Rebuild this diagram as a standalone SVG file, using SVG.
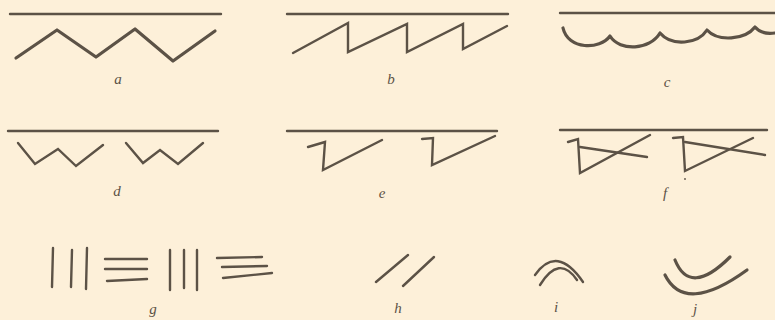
<svg xmlns="http://www.w3.org/2000/svg" width="775" height="320" viewBox="0 0 775 320">
<style>
.ln{fill:none;stroke:#5c5246;stroke-width:2.4;stroke-linecap:round;stroke-linejoin:miter}
.th{fill:none;stroke:#5c5246;stroke-width:3.2;stroke-linecap:round;stroke-linejoin:round}
.lb{font-family:"Liberation Serif",serif;font-style:italic;font-size:15px;fill:#5c5246;text-anchor:middle}
</style>
<rect width="775" height="320" fill="#fdf0d9"/>
<g id="a">
<line class="ln" x1="10" y1="14" x2="221" y2="14"/>
<polyline class="th" points="16,58 57,30 96,57 135,29 173,61 215,31" stroke-linejoin="miter"/>
<text class="lb" x="118" y="84">a</text>
</g>
<g id="b">
<line class="ln" x1="287" y1="14" x2="508" y2="14"/>
<polyline class="ln" points="293,53 348,23 348,52 407,24 407,52 463,24 463,49 507,26"/>
<text class="lb" x="391" y="84">b</text>
</g>
<g id="c">
<line class="ln" x1="560" y1="13" x2="775" y2="13"/>
<path class="th" stroke-width="3.6" d="M563,28 C568,50 600,50 610,36 C620,52 650,50 660,33 C672,47 698,44 707,30 C718,42 745,40 755,27 C760,33 768,34 775,33"/>
<text class="lb" x="667" y="87" font-style="normal">c</text>
</g>
<g id="d">
<line class="ln" x1="8" y1="131" x2="218" y2="131"/>
<polyline class="ln" points="18,143 35,164 58,149 76,166 103,145"/>
<polyline class="ln" points="126,143 143,163 160,150 178,164 203,143"/>
<text class="lb" x="117" y="196">d</text>
</g>
<g id="e">
<line class="ln" x1="287" y1="131" x2="497" y2="131"/>
<polyline class="ln" points="308,147 325,142 323,170 382,140"/>
<polyline class="ln" points="422,139 433,138 432,165 495,136"/>
<text class="lb" x="382" y="198">e</text>
</g>
<g id="f">
<line class="ln" x1="560" y1="130" x2="767" y2="130"/>
<polyline class="ln" points="568,142 578,139 580,173 650,135"/>
<line class="ln" x1="580" y1="147" x2="647" y2="157"/>
<polyline class="ln" points="673,138 683,137 685,171 753,138"/>
<line class="ln" x1="685" y1="142" x2="765" y2="155"/>
<circle cx="685" cy="179" r="0.9" fill="#5c5246"/>
<text class="lb" x="665" y="198">f</text>
</g>
<g id="g">
<line class="ln" x1="53" y1="248" x2="52" y2="287"/>
<line class="ln" x1="72" y1="250" x2="71" y2="287"/>
<line class="ln" x1="87" y1="248" x2="86" y2="289"/>
<line class="ln" x1="105" y1="259" x2="147" y2="259"/>
<line class="ln" x1="105" y1="269" x2="147" y2="269"/>
<line class="ln" x1="107" y1="281" x2="147" y2="279"/>
<line class="ln" x1="170" y1="250" x2="170" y2="290"/>
<line class="ln" x1="184" y1="250" x2="184" y2="288"/>
<line class="ln" x1="197" y1="250" x2="197" y2="290"/>
<line class="ln" x1="217" y1="258" x2="262" y2="257"/>
<line class="ln" x1="222" y1="267" x2="267" y2="266"/>
<line class="ln" x1="223" y1="278" x2="272" y2="273"/>
<text class="lb" x="153" y="314">g</text>
</g>
<g id="h">
<line class="ln" x1="376" y1="282" x2="408" y2="255"/>
<line class="ln" x1="403" y1="286" x2="434" y2="257"/>
<text class="lb" x="398" y="313">h</text>
</g>
<g id="i">
<path class="ln" d="M535,275 Q557,244 583,282"/>
<path class="ln" d="M540,285 Q559,254 577,280"/>
<text class="lb" x="556" y="312">i</text>
</g>
<g id="j">
<path class="th" stroke-width="4" d="M675,260 Q690,297 730,257"/>
<path class="th" stroke-width="5" d="M665,275 Q685,315 747,270"/>
<text class="lb" x="695" y="314">j</text>
</g>
</svg>
